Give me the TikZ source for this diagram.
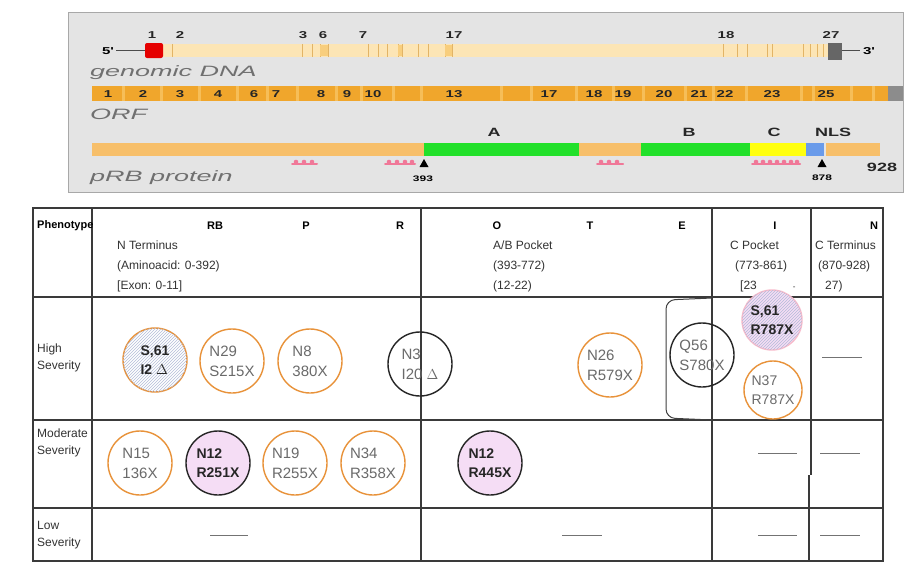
\documentclass[tikz,border=0pt]{standalone}
\usepackage{fontspec}
\setmainfont{Liberation Sans}
\newfontfamily\widefont[FakeStretch=1.8]{Liberation Sans}
\newfontfamily\numfam[FakeStretch=1.5]{Liberation Sans}
\usetikzlibrary{patterns}
\definecolor{panelgray}{HTML}{E4E4E4}
\definecolor{panelborder}{HTML}{A8A8A8}
\definecolor{dnalight}{HTML}{FCE5B5}
\definecolor{exonline}{HTML}{E2B466}
\definecolor{orfc}{HTML}{F0A62C}
\definecolor{orflight}{HTML}{F6BE58}
\definecolor{protorange}{HTML}{F7BF6A}
\definecolor{protgreen}{HTML}{22E02A}
\definecolor{protyellow}{HTML}{FFFF10}
\definecolor{protblue}{HTML}{6A9BEA}
\definecolor{pinkmark}{HTML}{F07898}
\definecolor{circorange}{HTML}{E8923A}
\definecolor{circpink}{HTML}{F5DDF5}
\definecolor{labgray}{HTML}{707070}
\definecolor{tline}{HTML}{3A3A3A}
\definecolor{ctext}{HTML}{6A6A6A}
\definecolor{hatchblue}{HTML}{B4BCD8}
\begin{document}
\begin{tikzpicture}[x=1pt,y=-1pt,
  toplabel/.style={font=\widefont\itshape\fontsize{15}{15}\selectfont, text=labgray, anchor=base west, inner sep=0pt},
  num/.style={font=\numfam\bfseries\fontsize{10}{10}\selectfont, text=black!85, anchor=base, inner sep=0pt},
  domlab/.style={font=\numfam\bfseries\fontsize{12}{12}\selectfont, text=black!85, anchor=base, inner sep=0pt},
  exonmark/.style={exonline, line width=1pt},
  pmark/.style={pinkmark, line width=2pt, line cap=round},
  tri/.style={fill=black},
  tablerule/.style={tline, line width=1.1pt},
  hdr/.style={font=\bfseries\fontsize{11}{11}\selectfont, anchor=base, inner sep=0pt},
  cell/.style={font=\fontsize{12}{20}\selectfont, text=black!80, anchor=north west, align=left, inner sep=0pt},
  pheno/.style={font=\fontsize{12}{17}\selectfont, text=black!80, anchor=west, align=left, inner sep=0pt},
  mut/.style={circle, draw=circorange, line width=1.4pt, minimum size=64pt, inner sep=0pt, align=left, font=\fontsize{15}{20}\selectfont, text=ctext},
  mutblack/.style={mut, draw=black!85},
  mutpink/.style={mut, draw=black!85, fill=circpink, text=black!85, font=\bfseries\fontsize{14}{19}\selectfont},
  muthatch/.style={mut, fill=white, postaction={pattern=north east lines, pattern color=hatchblue}, text=black!85, font=\bfseries\fontsize{14}{19}\selectfont},
  dashmark/.style={black!55, line width=1pt}
]
\useasboundingbox (0,0) rectangle (909,562);
\fill[white] (0,0) rectangle (909,562);

% ---------- top panel ----------
\fill[panelgray] (68,12) rectangle (903,192);
\draw[panelborder, line width=1pt] (68,12) rectangle (903,192);

% genomic DNA
\node[font=\numfam\bfseries\fontsize{10}{10}\selectfont, anchor=base, inner sep=0pt] (five) at (108,54) {5'};
\fill[dnalight] (162,44) rectangle (828,57);
\draw[black!70, line width=1pt] (116,50) -- (146,50);
\fill[red!90!black, rounded corners=2pt] (145,43) rectangle (163,58);
\foreach \x in {172,302,312,320,328,368,378,387,398,402,418,428,445,452,723,737,747,767,772,803,810,817,823}
  \draw[exonmark] (\x,44) -- (\x,57);
\fill[orflight!60!dnalight] (320,45) rectangle (328,56);
\fill[orflight!60!dnalight] (398,45) rectangle (402,56);
\fill[orflight!60!dnalight] (445,45) rectangle (452,56);
\fill[black!60] (828,43) rectangle (842,60);
\draw[black!70, line width=1pt] (842,50) -- (860,50);
\node[font=\numfam\bfseries\fontsize{10}{10}\selectfont, anchor=base, inner sep=0pt] (three) at (869,54) {3'};
\foreach \x/\t in {152/1,180/2,303/3,323/6,363/7,454/17,726/18,831/27}
  \node[num] at (\x,38) {\t};
\node[toplabel] (gdna) at (90,76) {genomic DNA};

% ORF
\fill[orfc] (92,86) rectangle (888,101);
\foreach \x in {122,160,198,236,266,296,335,360,392,420,500,530,575,612,642,684,712,745,800,812,850,872}
  \fill[orflight] (\x,86) rectangle (\x+3,101);
\fill[black!45] (888,86) rectangle (903,101);
\foreach \x/\t in {108/1,143/2,180/3,218/4,254/6,276/7,321/8,347/9,373/10,454/13,549/17,594/18,623/19,664/20,699/21,725/22,772/23,826/25}
  \node[num] at (\x,97.5) {\t};
\node[toplabel] (orflab) at (90,119) {ORF};

% pRB protein
\fill[protorange] (92,143) rectangle (424,156);
\fill[protgreen] (424,143) rectangle (579,156);
\fill[protorange] (579,143) rectangle (641,156);
\fill[protgreen] (641,143) rectangle (750,156);
\fill[protyellow] (750,143) rectangle (806,156);
\fill[protblue] (806,143) rectangle (824,156);
\fill[protorange] (826,143) rectangle (880,156);
\node[domlab] (la) at (494,136) {A};
\node[domlab] (lb) at (689,136) {B};
\node[domlab] (lc) at (774,136) {C};
\node[domlab] (lnls) at (833,136) {NLS};
\fill[tri] (424,159) -- (419.5,167) -- (428.5,167) -- cycle;
\fill[tri] (822,159) -- (817.5,167) -- (826.5,167) -- cycle;
\node[font=\numfam\bfseries\fontsize{8}{8}\selectfont, anchor=base, inner sep=0pt] (n393) at (423,181) {393};
\node[font=\numfam\bfseries\fontsize{8}{8}\selectfont, anchor=base, inner sep=0pt] (n878) at (822,180) {878};
\node[domlab] (n928) at (882,171) {928};
% pink marks
\foreach \a/\b in {292/317,385/415,597/623,752/800}{
  \draw[pmark] (\a,164) -- (\b,164);
}
\foreach \x in {296,304,312,389,397,405,412,601,609,617,756,763,770,777,784,791,797}
  \fill[pinkmark] (\x,162) circle (2.3);
\node[toplabel] (prblab) at (90,181) {pRB protein};

% ---------- table ----------
\draw[tablerule] (33,208) rectangle (883,561);
\draw[tablerule] (33,297) -- (883,297);
\draw[tablerule] (33,420) -- (883,420);
\draw[tablerule] (33,508) -- (883,508);
\draw[tablerule] (92,208) -- (92,561);
\draw[tablerule] (421,208) -- (421,561);
\draw[tablerule] (712,208) -- (712,561);
\draw[tablerule] (811,208) -- (811,475);
\draw[tablerule] (809,475) -- (809,561);

% header
\node[hdr, anchor=base west] (phen) at (37,228) {Phenotype};
\node[hdr] (hRB) at (215,229) {RB};
\node[hdr] (hP) at (306,229) {P};
\node[hdr] (hR) at (400,229) {R};
\node[hdr] (hO) at (497,229) {O};
\node[hdr] (hT) at (590,229) {T};
\node[hdr] (hE) at (682,229) {E};
\node[hdr] (hI) at (775,229) {I};
\node[hdr] (hN) at (874,229) {N};
\node[cell] (nterm) at (117,241) {N Terminus\\ (Aminoacid: 0-392)\\{[}Exon: 0-11{]}};
\node[cell] (abp) at (493,241) {A/B Pocket\\(393-772)\\(12-22)};
\node[cell] (cp) at (730,241) {C Pocket\\\hspace*{5pt}(773-861)\\\hspace*{10pt}{[}23\hspace*{36pt}{\fontsize{8}{8}\selectfont -}};
\node[cell] (ct) at (815,241) {C Terminus\\\hspace*{3pt}(870-928)\\\hspace*{10pt}27)};

% phenotype labels
\node[pheno] (ph1) at (37,358) {High\\Severity};
\node[pheno] (ph2) at (37,443) {Moderate\\Severity};
\node[pheno] (ph3) at (37,535) {Low\\Severity};

% high severity
\draw[black!75, line width=1pt, rounded corners=9pt] (712,298) -- (666,300) -- (666,418) -- (712,420);
\node[muthatch] (s61a) at (155,360) {S,61\\I2 $\Delta$};
\node[mut] (n29) at (232,361) {N29\\S215X};
\node[mut] (n8) at (310,361) {N8\\380X};
\node[mutblack] (n3) at (420,364) {N3\\I20 $\Delta$};
\node[mut] (n26) at (610,365) {N26\\R579X};
\node[mutblack] (q56) at (702,355) {Q56\\S780X};
\node[muthatch, draw=pinkmark!50, fill=circpink, minimum size=60pt] (s61b) at (772,320) {S,61\\R787X};
\node[mut, minimum size=58pt, font=\fontsize{14}{19}\selectfont] (n37) at (773,390) {N37\\R787X};
\draw[dashmark] (822,357) -- (862,357);

% moderate severity
\node[mut] (n15) at (140,463) {N15\\136X};
\node[mutpink] (n12a) at (218,463) {N12\\R251X};
\node[mut] (n19) at (295,463) {N19\\R255X};
\node[mut] (n34) at (373,463) {N34\\R358X};
\node[mutpink] (n12b) at (490,463) {N12\\R445X};
\draw[dashmark] (758,453) -- (797,453);
\draw[dashmark] (820,453) -- (860,453);

% low severity
\draw[dashmark] (210,535) -- (248,535);
\draw[dashmark] (562,535) -- (602,535);
\draw[dashmark] (758,535) -- (797,535);
\draw[dashmark] (820,535) -- (860,535);
\end{tikzpicture}
\end{document}
